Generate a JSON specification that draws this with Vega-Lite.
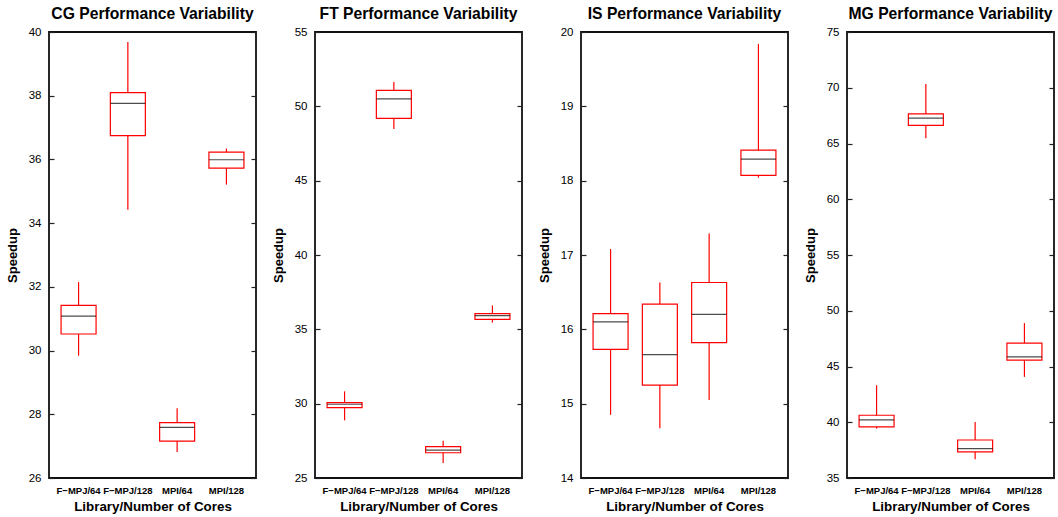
{
  "$schema": "https://vega.github.io/schema/vega-lite/v6.json",
  "padding": {"left": 5, "top": 5, "right": 0, "bottom": 3},
  "background": "white",
  "bounds": "flush",
  "spacing": 59,
  "datasets": {
    "CG": [
      {"lib": "F−MPJ/64", "min": 29.84, "q1": 30.52, "median": 31.08, "q3": 31.42, "max": 32.15},
      {"lib": "F−MPJ/128", "min": 34.42, "q1": 36.75, "median": 37.76, "q3": 38.1, "max": 39.69},
      {"lib": "MPI/64", "min": 26.82, "q1": 27.16, "median": 27.59, "q3": 27.74, "max": 28.19},
      {"lib": "MPI/128", "min": 35.21, "q1": 35.73, "median": 35.99, "q3": 36.23, "max": 36.34}
    ],
    "FT": [
      {"lib": "F−MPJ/64", "min": 28.88, "q1": 29.73, "median": 29.96, "q3": 30.07, "max": 30.83},
      {"lib": "F−MPJ/128", "min": 48.47, "q1": 49.19, "median": 50.5, "q3": 51.07, "max": 51.63},
      {"lib": "MPI/64", "min": 26.01, "q1": 26.7, "median": 26.88, "q3": 27.11, "max": 27.51},
      {"lib": "MPI/128", "min": 35.45, "q1": 35.67, "median": 35.92, "q3": 36.05, "max": 36.61}
    ],
    "IS": [
      {"lib": "F−MPJ/64", "min": 14.85, "q1": 15.73, "median": 16.1, "q3": 16.21, "max": 17.08},
      {"lib": "F−MPJ/128", "min": 14.67, "q1": 15.25, "median": 15.66, "q3": 16.34, "max": 16.63},
      {"lib": "MPI/64", "min": 15.05, "q1": 15.82, "median": 16.2, "q3": 16.63, "max": 17.29},
      {"lib": "MPI/128", "min": 18.04, "q1": 18.07, "median": 18.29, "q3": 18.41, "max": 19.84}
    ],
    "MG": [
      {"lib": "F−MPJ/64", "min": 39.43, "q1": 39.58, "median": 40.21, "q3": 40.63, "max": 43.32},
      {"lib": "F−MPJ/128", "min": 65.48, "q1": 66.62, "median": 67.28, "q3": 67.66, "max": 70.33},
      {"lib": "MPI/64", "min": 36.68, "q1": 37.34, "median": 37.63, "q3": 38.41, "max": 40.03},
      {"lib": "MPI/128", "min": 44.07, "q1": 45.57, "median": 45.87, "q3": 47.1, "max": 48.89}
    ]
  },
  "hconcat": [
    {
      "title": "CG Performance Variability",
      "width": 207, "height": 446,
      "data": {"name": "CG"},
      "resolve": {"axis": {"y": "independent"}},
      "layer": [
        {"mark": {"type": "rule", "color": "#ff0000", "strokeWidth": 1.2},
         "encoding": {
           "x": {"field": "lib", "type": "nominal", "sort": null, "scale": {"type": "band", "paddingInner": 0, "paddingOuter": 0.1}, "title": "Library/Number of Cores"},
           "y": {"field": "min", "type": "quantitative", "scale": {"domain": [26, 40], "nice": false, "zero": false}, "axis": {"orient": "left", "values": [26, 28, 30, 32, 34, 36, 38, 40], "title": "Speedup"}},
           "y2": {"field": "max"}}},
        {"mark": {"type": "bar", "fill": "white", "stroke": "#ff0000", "strokeWidth": 1.2, "size": 35},
         "encoding": {
           "x": {"field": "lib", "type": "nominal", "sort": null},
           "y": {"field": "q1", "type": "quantitative", "axis": null},
           "y2": {"field": "q3"}}},
        {"mark": {"type": "tick", "color": "black", "size": 35, "thickness": 1.2},
         "encoding": {
           "x": {"field": "lib", "type": "nominal", "sort": null},
           "y": {"field": "median", "type": "quantitative", "axis": {"orient": "right", "labels": false, "title": null, "values": [26, 28, 30, 32, 34, 36, 38, 40]}}}}
      ]
    },
    {
      "title": "FT Performance Variability",
      "width": 207, "height": 446,
      "data": {"name": "FT"},
      "resolve": {"axis": {"y": "independent"}},
      "layer": [
        {"mark": {"type": "rule", "color": "#ff0000", "strokeWidth": 1.2},
         "encoding": {
           "x": {"field": "lib", "type": "nominal", "sort": null, "scale": {"type": "band", "paddingInner": 0, "paddingOuter": 0.1}, "title": "Library/Number of Cores"},
           "y": {"field": "min", "type": "quantitative", "scale": {"domain": [25, 55], "nice": false, "zero": false}, "axis": {"orient": "left", "values": [25, 30, 35, 40, 45, 50, 55], "title": "Speedup"}},
           "y2": {"field": "max"}}},
        {"mark": {"type": "bar", "fill": "white", "stroke": "#ff0000", "strokeWidth": 1.2, "size": 35},
         "encoding": {
           "x": {"field": "lib", "type": "nominal", "sort": null},
           "y": {"field": "q1", "type": "quantitative", "axis": null},
           "y2": {"field": "q3"}}},
        {"mark": {"type": "tick", "color": "black", "size": 35, "thickness": 1.2},
         "encoding": {
           "x": {"field": "lib", "type": "nominal", "sort": null},
           "y": {"field": "median", "type": "quantitative", "axis": {"orient": "right", "labels": false, "title": null, "values": [25, 30, 35, 40, 45, 50, 55]}}}}
      ]
    },
    {
      "title": "IS Performance Variability",
      "width": 207, "height": 446,
      "data": {"name": "IS"},
      "resolve": {"axis": {"y": "independent"}},
      "layer": [
        {"mark": {"type": "rule", "color": "#ff0000", "strokeWidth": 1.2},
         "encoding": {
           "x": {"field": "lib", "type": "nominal", "sort": null, "scale": {"type": "band", "paddingInner": 0, "paddingOuter": 0.1}, "title": "Library/Number of Cores"},
           "y": {"field": "min", "type": "quantitative", "scale": {"domain": [14, 20], "nice": false, "zero": false}, "axis": {"orient": "left", "values": [14, 15, 16, 17, 18, 19, 20], "title": "Speedup"}},
           "y2": {"field": "max"}}},
        {"mark": {"type": "bar", "fill": "white", "stroke": "#ff0000", "strokeWidth": 1.2, "size": 35},
         "encoding": {
           "x": {"field": "lib", "type": "nominal", "sort": null},
           "y": {"field": "q1", "type": "quantitative", "axis": null},
           "y2": {"field": "q3"}}},
        {"mark": {"type": "tick", "color": "black", "size": 35, "thickness": 1.2},
         "encoding": {
           "x": {"field": "lib", "type": "nominal", "sort": null},
           "y": {"field": "median", "type": "quantitative", "axis": {"orient": "right", "labels": false, "title": null, "values": [14, 15, 16, 17, 18, 19, 20]}}}}
      ]
    },
    {
      "title": "MG Performance Variability",
      "width": 207, "height": 446,
      "data": {"name": "MG"},
      "resolve": {"axis": {"y": "independent"}},
      "layer": [
        {"mark": {"type": "rule", "color": "#ff0000", "strokeWidth": 1.2},
         "encoding": {
           "x": {"field": "lib", "type": "nominal", "sort": null, "scale": {"type": "band", "paddingInner": 0, "paddingOuter": 0.1}, "title": "Library/Number of Cores"},
           "y": {"field": "min", "type": "quantitative", "scale": {"domain": [35, 75], "nice": false, "zero": false}, "axis": {"orient": "left", "values": [35, 40, 45, 50, 55, 60, 65, 70, 75], "title": "Speedup"}},
           "y2": {"field": "max"}}},
        {"mark": {"type": "bar", "fill": "white", "stroke": "#ff0000", "strokeWidth": 1.2, "size": 35},
         "encoding": {
           "x": {"field": "lib", "type": "nominal", "sort": null},
           "y": {"field": "q1", "type": "quantitative", "axis": null},
           "y2": {"field": "q3"}}},
        {"mark": {"type": "tick", "color": "black", "size": 35, "thickness": 1.2},
         "encoding": {
           "x": {"field": "lib", "type": "nominal", "sort": null},
           "y": {"field": "median", "type": "quantitative", "axis": {"orient": "right", "labels": false, "title": null, "values": [35, 40, 45, 50, 55, 60, 65, 70, 75]}}}}
      ]
    }
  ],
  "config": {
    "font": "Liberation Sans",
    "view": {"stroke": "#111", "strokeWidth": 1.8},
    "title": {"fontSize": 15.7, "fontWeight": "bold", "color": "black", "offset": 3, "anchor": "middle"},
    "axis": {"grid": false, "domain": false, "labelColor": "black", "titleColor": "black"},
    "axisY": {"offset": -5, "tickSize": 5, "tickColor": "#222", "tickWidth": 1.2, "labelFontSize": 11.5, "labelPadding": 8, "titleFontSize": 13, "titleFontWeight": "bold", "titlePadding": 9},
    "axisX": {"ticks": false, "labelAngle": 0, "labelFontSize": 9.5, "labelFontWeight": "bold", "labelPadding": 7, "titleFontSize": 13.4, "titleFontWeight": "bold", "titlePadding": 5}
  }
}
